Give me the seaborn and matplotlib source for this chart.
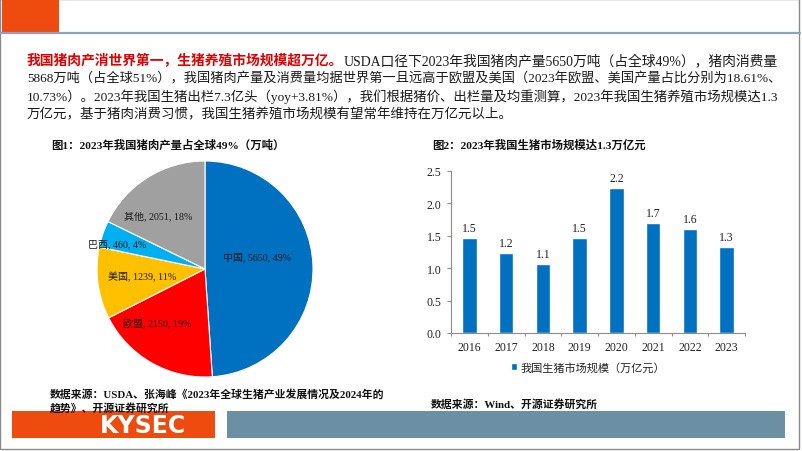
import matplotlib
matplotlib.use('Agg')
import matplotlib.pyplot as plt
import seaborn as sns
import numpy as np
from matplotlib.patches import Rectangle
from matplotlib.lines import Line2D

# ---------------- data ----------------
pie_names = ['中国', '欧盟', '美国', '巴西', '其他']
pie_values = [5650, 2150, 1239, 460, 2051]
years = ['2016', '2017', '2018', '2019', '2020', '2021', '2022', '2023']
market_size = [1.47, 1.23, 1.06, 1.46, 2.24, 1.69, 1.61, 1.33]
y_ticks = [0.0, 0.5, 1.0, 1.5, 2.0, 2.5]
legend_label = '我国生猪市场规模（万亿元）'

para_red = '我国猪肉产消世界第一，生猪养殖市场规模超万亿。'
para_lines = [
    'USDA口径下2023年我国猪肉产量5650万吨（占全球49%），猪肉消费量',
    '5868万吨（占全球51%），我国猪肉产量及消费量均据世界第一且远高于欧盟及美国（2023年欧盟、美国产量占比分别为18.61%、',
    '10.73%）。2023年我国生猪出栏7.3亿头（yoy+3.81%），我们根据猪价、出栏量及均重测算，2023年我国生猪养殖市场规模达1.3',
    '万亿元，基于猪肉消费习惯，我国生猪养殖市场规模有望常年维持在万亿元以上。',
]
title1 = '图1：2023年我国猪肉产量占全球49%（万吨）'
title2 = '图2：2023年我国生猪市场规模达1.3万亿元'
source1 = ['数据来源：USDA、张海峰《2023年全球生猪产业发展情况及2024年的', '趋势》、开源证券研究所']
source2 = '数据来源：Wind、开源证券研究所'

# ---------------- style ----------------
pie_colors = ['#0070C0', '#FF0000', '#FFC000', '#00B0F0', '#A0A0A0']
bar_color = '#0070C0'
orange = '#EE4B0E'
slate = '#6B8FA3'
label_r = [0.50, 0.67, 0.59, 0.85, 0.66]
label_ang = [13.8, -131.6, -173.7, 163.5, 131.0]

sns.set_theme(style='white')
FAM = ['Liberation Serif', 'Noto Sans CJK SC']
plt.rcParams['font.family'] = FAM
plt.rcParams['axes.unicode_minus'] = False

W, H = 802, 452
fig = plt.figure(figsize=(W / 100, H / 100), dpi=100)
fig.patch.set_facecolor('white')


def fx(px):
    return px / W


def fy(py):
    return 1 - py / H


# ---------------- page decorations ----------------
fig.add_artist(Rectangle((0, fy(450)), fx(799), 450 / H, fill=False,
                         edgecolor='#8a8a8a', lw=1.0, transform=fig.transFigure))
fig.add_artist(Rectangle((fx(2), fy(33)), 57 / W, 33 / H, facecolor=orange,
                         edgecolor='none', transform=fig.transFigure))
fig.add_artist(Line2D([0, fx(800)], [fy(34), fy(34)], color='#8FA3B5', lw=1.6,
                      transform=fig.transFigure))
fig.add_artist(Rectangle((fx(12), fy(439)), 203 / W, 27 / H, facecolor=orange,
                         edgecolor='none', transform=fig.transFigure))
fig.add_artist(Rectangle((fx(227), fy(439)), 558 / W, 27 / H, facecolor=slate,
                         edgecolor='none', transform=fig.transFigure))
fig.text(fx(143), fy(426), 'KYSEC', color='white', fontsize=17, weight='bold',
         family=['DejaVu Sans'], ha='center', va='center')

# ---------------- paragraph (justified) ----------------
renderer = fig.canvas.get_renderer()


def wpx(t):
    return t.get_window_extent(renderer).width


x0, x1 = 27, 777
line_y = [61, 79, 97, 115]
base = 9.2
red_color = '#E00000'
txt_color = '#1a1a1a'

t_red = fig.text(fx(x0), fy(line_y[0]), para_red, color=red_color, weight='bold',
                 fontsize=base, ha='left', va='center')
t_rest = fig.text(fx(x0), fy(line_y[0]), para_lines[0], color=txt_color,
                  fontsize=base, ha='left', va='center')
tot = wpx(t_red) + wpx(t_rest)
s = base * (x1 - x0) / tot
t_red.set_fontsize(s)
t_rest.set_fontsize(s)
t_rest.set_position((fx(x0 + wpx(t_red)), fy(line_y[0])))
sizes = [s]
for i in (1, 2):
    t = fig.text(fx(x0), fy(line_y[i]), para_lines[i], color=txt_color,
                 fontsize=base, ha='left', va='center')
    s = base * (x1 - x0) / wpx(t)
    t.set_fontsize(s)
    sizes.append(s)
fig.text(fx(x0), fy(line_y[3]), para_lines[3], color=txt_color,
         fontsize=float(np.mean(sizes)), ha='left', va='center')

# ---------------- titles and sources ----------------
fig.text(fx(51), fy(145), title1, fontsize=8.2, weight='bold', color='#111',
         ha='left', va='center')
fig.text(fx(432), fy(145), title2, fontsize=8.2, weight='bold', color='#111',
         ha='left', va='center')
fig.text(fx(50), fy(394), source1[0], fontsize=7.8, weight='bold', color='#111',
         ha='left', va='center')
fig.text(fx(50), fy(408), source1[1], fontsize=7.8, weight='bold', color='#111',
         ha='left', va='center')
fig.text(fx(431), fy(404), source2, fontsize=7.8, weight='bold', color='#111',
         ha='left', va='center')

# ---------------- pie ----------------
ax1 = fig.add_axes([fx(97), fy(378), 216 / W, 216 / H])
wedges, _ = ax1.pie(pie_values, colors=pie_colors, startangle=90, counterclock=False,
                    wedgeprops=dict(edgecolor='white', linewidth=0.8))
total = sum(pie_values)
for name, val, r, a in zip(pie_names, pie_values, label_r, label_ang):
    pct = round(val / total * 100)
    ax1.text(r * np.cos(np.radians(a)), r * np.sin(np.radians(a)),
             f'{name}, {val}, {pct}%', ha='center', va='center',
             fontsize=7.2, color='#1a1a1a')
ax1.set_xlim(-1, 1)
ax1.set_ylim(-1, 1)
ax1.set_aspect('auto')
ax1.axis('off')

# ---------------- bars ----------------
ax2 = fig.add_axes([fx(451), fy(334), (745 - 451) / W, (334 - 172) / H])
sns.barplot(x=years, y=market_size, color=bar_color, saturation=1, width=0.39,
            ax=ax2, label=legend_label)
ax2.set_xlim(-0.5, len(years) - 0.5)
ax2.set_ylim(0, 2.5)
ax2.set_yticks(y_ticks)
ax2.set_yticklabels([f'{v:.1f}' for v in y_ticks])
ax2.set_xticks(np.arange(len(years) + 1) - 0.5, minor=True)
for sp in ('top', 'right'):
    ax2.spines[sp].set_visible(False)
for sp in ('left', 'bottom'):
    ax2.spines[sp].set_color('#8c8c8c')
    ax2.spines[sp].set_linewidth(0.8)
ax2.tick_params(axis='y', left=True, length=3, width=0.8, color='#8c8c8c',
                labelsize=8.5, pad=4, labelcolor='#222')
ax2.tick_params(axis='x', which='major', bottom=False, length=0, labelsize=8.5,
                pad=6, labelcolor='#222')
ax2.tick_params(axis='x', which='minor', bottom=True, length=2.5, width=0.8,
                color='#8c8c8c')
ax2.set_xlabel('')
ax2.set_ylabel('')
ax2.bar_label(ax2.containers[0], fmt='%.1f', padding=3, fontsize=8.5, color='#222')
handles, labels = ax2.get_legend_handles_labels()
lg = ax2.get_legend()
if lg is not None:
    lg.remove()
fig.legend(handles, labels, loc='center', bbox_to_anchor=(fx(588), fy(368)),
           frameon=False, fontsize=8, handlelength=0.6, handleheight=0.6,
           handletextpad=0.3, labelcolor='#222')

fig.savefig('out.png', dpi=100)
